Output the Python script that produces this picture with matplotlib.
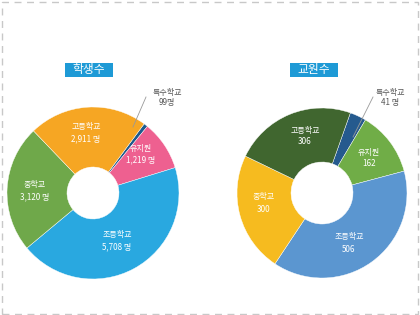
import matplotlib
matplotlib.use("Agg")
import matplotlib.pyplot as plt
from matplotlib.patches import Rectangle

plt.rcParams['font.family'] = ['Noto Sans CJK KR', 'DejaVu Sans']

# ── data ──
categories = ["특수학교", "유치원", "초등학교", "중학교", "고등학교"]
students   = [99, 1219, 5708, 3120, 2911]
teachers   = [41, 162, 506, 300, 306]
student_lbl = ["99명", "1,219 명", "5,708 명", "3,120 명", "2,911 명"]
teacher_lbl = ["41 명", "162", "506", "300", "306"]

student_colors = ["#1d5a8c", "#ee6090", "#29a8e0", "#6fa84a", "#f6a623"]
teacher_colors = ["#255a8e", "#70ad47", "#5b96d0", "#f6bb1f", "#40662f"]

W, H = 420, 315
FS = 5.8
fig = plt.figure(figsize=(W / 100, H / 100), dpi=100)
ax = fig.add_axes([0, 0, 1, 1])

# dashed frame
ax.add_patch(Rectangle((1.5, 1.5), W - 3.5, H - 3.5, fill=False, ec="#c8c8c8",
                       lw=1.0, ls=(0, (5, 4))))


def donut(cx, cy, r, hole, start, values, colors, names, labels, pos, out_pos, line):
    ax.pie(values, colors=colors, startangle=start, counterclock=False,
           center=(cx, cy), radius=r, frame=True,
           wedgeprops=dict(width=r - hole, edgecolor="white", linewidth=0.3))
    for i in range(1, len(values)):
        nx, ny = pos[i]
        ax.text(nx, H - ny, names[i], ha="center", va="center", color="white", fontsize=FS)
        ax.text(nx, H - ny - 12, labels[i], ha="center", va="center", color="white", fontsize=FS)
    ox, oy = out_pos
    ax.text(ox, H - oy, names[0], ha="center", va="center", color="#555555", fontsize=FS)
    ax.text(ox, H - oy - 11, labels[0], ha="center", va="center", color="#555555", fontsize=FS)
    (x0, y0), (x1, y1) = line
    ax.plot([x0, x1], [H - y0, H - y1], color="#999999", lw=0.6)


donut(93, 315 - 193, 86, 26, 53.5, students, student_colors, categories, student_lbl,
      [None, (141, 148), (117, 235), (35, 185), (86, 127)], (167, 92),
      ((146, 97), (133, 127)))
donut(322, 315 - 193, 85, 31, 70.5, teachers, teacher_colors, categories, teacher_lbl,
      [None, (369, 152), (349, 237), (264, 197), (305, 130)], (390, 92),
      ((373, 97), (353, 137)))

ax.set_xlim(0, W)
ax.set_ylim(0, H)
ax.set_aspect("equal")
ax.axis("off")

# title boxes
for cx, title in [(89, "학생수"), (314, "교원수")]:
    ax.add_patch(Rectangle((cx - 24, H - 77), 48, 14, color="#1e9ad6", lw=0))
    ax.text(cx, H - 70, title, ha="center", va="center", color="white", fontsize=8.5)

fig.savefig("out.png", dpi=100)
